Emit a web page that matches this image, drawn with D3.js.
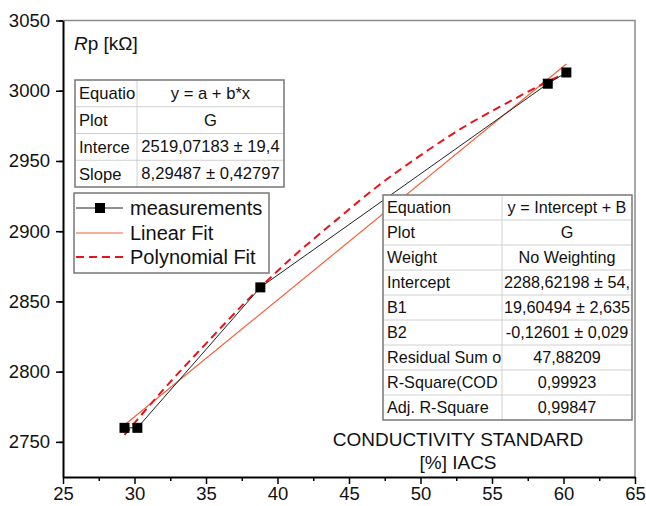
<!DOCTYPE html>
<html><head><meta charset="utf-8">
<script src="https://cdn.jsdelivr.net/npm/d3@7"></script>
<style>
body{margin:0;background:#fff;}
svg{display:block;font-family:"Liberation Sans",Arial,sans-serif;}
</style></head>
<body><svg id="c" width="646" height="506"></svg>
<script>
// ---- data ----
const xTicks = [25,30,35,40,45,50,55,60,65];
const yTicks = [2750,2800,2850,2900,2950,3000,3050];
const measX = [29.3, 30.2, 38.8, 58.9, 60.2];
const measY = [2760, 2760, 2860, 3005, 3013];
const linX = [29.3, 60.2];
const linY = [2762, 3019];
const polyX = [29.3, 32, 35, 38, 41, 44, 47, 50, 53, 56, 59, 60.3];
const polyY = [2755, 2787, 2820, 2852, 2881, 2907, 2932, 2954, 2974, 2991, 3007, 3013];
const linTableLabels = ["Equatio", "Plot", "Interce", "Slope"];
const linTableValues = ["y = a + b*x", "G", "2519,07183 ± 19,4", "8,29487 ± 0,42797"];
const polyTableLabels = ["Equation", "Plot", "Weight", "Intercept", "B1", "B2", "Residual Sum o", "R-Square(COD", "Adj. R-Square"];
const polyTableValues = ["y = Intercept + B", "G", "No Weighting", "2288,62198 ± 54,", "19,60494 ± 2,635", "-0,12601 ± 0,029", "47,88209", "0,99923", "0,99847"];
const legendLabels = ["measurements", "Linear Fit", "Polynomial Fit"];

// ---- layout ----
const svg = d3.select("#c");
const x = d3.scaleLinear().domain([25,65]).range([63,635]);
const y = d3.scaleLinear().domain([2725,3050]).range([477,20.5]);

// frame (top/right)
svg.append("path").attr("d",`M${x(25)},${y(3050)}H${x(65)}V${y(2725)}`)
  .attr("fill","none").attr("stroke","#8a8a8a").attr("stroke-width",1.5);

// minor ticks
const xMinor = d3.range(27.5,65,5);
const yMinor = d3.range(2725,3050,50).map(v=>v+25);
const gxm = svg.append("g").attr("transform",`translate(0,${y(2725)})`)
  .call(d3.axisBottom(x).tickValues(xMinor).tickSize(4).tickFormat(""));
const gym = svg.append("g").attr("transform",`translate(${x(25)},0)`)
  .call(d3.axisLeft(y).tickValues(yMinor).tickSize(4).tickFormat(""));
[gxm,gym].forEach(g=>{g.select(".domain").remove();g.selectAll("line").attr("stroke","#000").attr("stroke-width",1.5);});

const gx = svg.append("g").attr("transform",`translate(0,${y(2725)})`)
  .call(d3.axisBottom(x).tickValues(xTicks).tickSize(7).tickSizeOuter(0).tickPadding(3).tickFormat(d3.format("d")));
const gy = svg.append("g").attr("transform",`translate(${x(25)},0)`)
  .call(d3.axisLeft(y).tickValues(yTicks).tickSize(7).tickSizeOuter(0).tickPadding(6).tickFormat(d3.format("d")));
[gx,gy].forEach(g=>{
  g.select(".domain").attr("stroke","#000").attr("stroke-width",2);
  g.selectAll("line").attr("stroke","#000").attr("stroke-width",1.5);
  g.selectAll("text").attr("font-size",18.5).attr("font-family","Liberation Sans, Arial, sans-serif").attr("fill","#111");
});
gx.selectAll("text").attr("dy","0.71em");

// fits and data
const ln = d3.line().x(d=>x(d[0])).y(d=>y(d[1]));
svg.append("path").attr("d",ln(linX.map((v,i)=>[v,linY[i]])))
  .attr("fill","none").attr("stroke","#f0603a").attr("stroke-width",1.2);
svg.append("path").attr("d",d3.line().x(d=>x(d[0])).y(d=>y(d[1])).curve(d3.curveMonotoneX)(polyX.map((v,i)=>[v,polyY[i]])))
  .attr("fill","none").attr("stroke","#e8141c").attr("stroke-width",2).attr("stroke-dasharray","8,5");
svg.append("path").attr("d",ln(measX.map((v,i)=>[v,measY[i]])))
  .attr("fill","none").attr("stroke","#222").attr("stroke-width",1);
svg.selectAll("rect.m").data(measX).join("rect").attr("class","m")
  .attr("x",(d)=>x(d)-5).attr("y",(d,i)=>y(measY[i])-5).attr("width",10).attr("height",10).attr("fill","#000");

// tables
function table(x0,y0,w,c1,rowH,labels,values,fs){
  const g = svg.append("g");
  const h = rowH*labels.length;
  g.append("rect").attr("x",x0).attr("y",y0).attr("width",w).attr("height",h).attr("fill","#fff");
  labels.forEach((l,i)=>{
    if(i>0) g.append("line").attr("x1",x0).attr("x2",x0+w).attr("y1",y0+i*rowH).attr("y2",y0+i*rowH).attr("stroke","#d0d0d0");
    g.append("text").attr("x",x0+4).attr("y",y0+i*rowH+rowH/2).attr("dy","0.36em").attr("font-size",fs).attr("fill","#111").text(l);
    g.append("text").attr("x",(x0+c1+x0+w)/2).attr("y",y0+i*rowH+rowH/2).attr("dy","0.33em").attr("text-anchor","middle").attr("font-size",fs).attr("fill","#111").text(values[i]);
  });
  g.append("line").attr("x1",x0+c1).attr("x2",x0+c1).attr("y1",y0).attr("y2",y0+h).attr("stroke","#d0d0d0");
  g.append("rect").attr("x",x0).attr("y",y0).attr("width",w).attr("height",h).attr("fill","none").attr("stroke","#777").attr("stroke-width",1.5);
}
table(75,80,209,62,26.75,linTableLabels,linTableValues,16.6);
table(383,195,249,119,25,polyTableLabels,polyTableValues,16.2);

// legend
const lg = svg.append("g");
lg.append("rect").attr("x",74).attr("y",193).attr("width",195).attr("height",80).attr("fill","#fff").attr("stroke","#777").attr("stroke-width",1.5);
const ly = [208,233,257];
lg.append("line").attr("x1",76).attr("x2",123).attr("y1",ly[0]).attr("y2",ly[0]).attr("stroke","#222");
lg.append("rect").attr("x",95).attr("y",ly[0]-5).attr("width",10).attr("height",10).attr("fill","#000");
lg.append("line").attr("x1",76).attr("x2",123).attr("y1",ly[1]).attr("y2",ly[1]).attr("stroke","#f0603a").attr("stroke-width",1.2);
lg.append("line").attr("x1",76).attr("x2",123).attr("y1",ly[2]).attr("y2",ly[2]).attr("stroke","#e8141c").attr("stroke-width",2).attr("stroke-dasharray","8,5");
legendLabels.forEach((t,i)=>lg.append("text").attr("x",130).attr("y",ly[i]).attr("dy","0.36em").attr("font-size",20).attr("fill","#111").text(t));

// axis titles
const yt = svg.append("text").attr("x",74).attr("y",50).attr("font-size",19).attr("fill","#111");
yt.append("tspan").attr("font-style","italic").text("R");
yt.append("tspan").text("p [kΩ]");
svg.append("text").attr("x",458).attr("y",446).attr("text-anchor","middle").attr("font-size",19).attr("fill","#111").text("CONDUCTIVITY STANDARD");
svg.append("text").attr("x",458).attr("y",469).attr("text-anchor","middle").attr("font-size",19).attr("fill","#111").text("[%] IACS");
</script></body></html>
